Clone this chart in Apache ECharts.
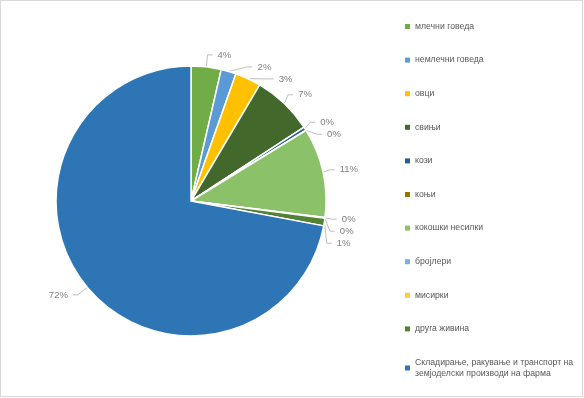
<!DOCTYPE html>
<html>
<head>
<meta charset="utf-8">
<script src="https://cdn.jsdelivr.net/npm/echarts@6/dist/echarts.min.js"></script>
<style>
    html, body {margin: 0; padding: 0; background: #fff;}
    #chart {width: 583px; height: 397px; box-sizing: border-box; border: 1px solid #d9d9d9;}
</style>
</head>
<body>
<div id="chart"></div>
<script>
const categories = [
    'млечни говеда',
    'немлечни говеда',
    'овци',
    'свињи',
    'кози',
    'коњи',
    'кокошки несилки',
    'бројлери',
    'мисирки',
    'друга живина',
    'Складирање, ракување и транспорт на земјоделски производи на фарма',
];
const values = [3.6, 1.8, 3.1, 7.3, 0.4, 0.05, 10.7, 0.05, 0.05, 0.9, 72.05];
const colors = ['#70ad47', '#5b9bd5', '#ffc000', '#43682b', '#255e91', '#997300',
    '#8bc168', '#7cafdd', '#ffcd33', '#548235', '#2e75b6'];

const font = 'Liberation Sans';

// legend text wraps like the excel one does
const wrapName = (name) => {
    const cut = name.indexOf(' земјоделски');
    return cut > 0 ? name.slice(0, cut) + '\n' + name.slice(cut + 1) : name;
};

const chart = echarts.init(document.getElementById('chart'));
chart.setOption({
    animation: false,
    color: colors,
    legend: {
        orient: 'vertical',
        left: 404,
        top: 20,
        padding: 0,
        itemWidth: 5,
        itemHeight: 5,
        icon: 'rect',
        itemGap: 22.6,
        selectedMode: false,
        itemStyle: {borderWidth: 0},
        formatter: wrapName,
        textStyle: {color: '#595959', fontSize: 8.7, fontFamily: font, lineHeight: 11},
    },
    series: [
        {
            type: 'pie',
            center: [190, 200],
            radius: 135,
            startAngle: 90,
            clockwise: true,
            avoidLabelOverlap: true,
            itemStyle: {borderColor: '#fff', borderWidth: 1.5},
            label: {
                show: true,
                position: 'outside',
                color: '#7f7f7f',
                fontSize: 9.5,
                fontFamily: font,
                formatter: (p) => Math.round(p.percent) + '%',
            },
            labelLine: {
                show: true,
                length: 12,
                length2: 5,
                lineStyle: {color: '#bfbfbf', width: 1},
            },
            data: categories.map((name, i) => ({name, value: values[i]})),
        },
    ],
});
</script>
</body>
</html>
